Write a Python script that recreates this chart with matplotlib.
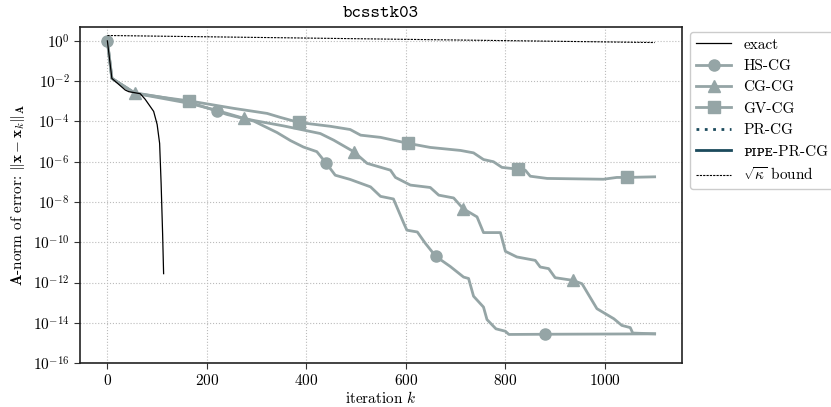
import numpy as np
import matplotlib
matplotlib.use("Agg")
import matplotlib.pyplot as plt

plt.rcParams['font.family'] = ['cmr10', 'DejaVu Serif']
plt.rcParams['mathtext.fontset'] = 'cm'
plt.rcParams['axes.formatter.use_mathtext'] = True

# iteration numbers and log10 of the A-norm error
exact_it = [0, 9, 36, 43, 66, 76, 93, 100, 105, 108, 111, 113]
exact_log = [0, -1.86, -2.44, -2.52, -2.62, -2.9, -3.5, -4.15, -5.09, -7.08, -9.57, -11.56]

hs_it = [0, 9, 55, 110, 165, 220, 240, 294, 341, 368, 394, 421, 440, 458, 488, 529,
         549, 575, 586, 596, 602, 623, 639, 660, 689, 716, 726, 736, 756, 763, 781,
         800, 807, 880, 1100]
hs_log = [0, -1.86, -2.58, -2.8, -3.05, -3.48, -3.65, -3.98, -4.55, -4.95, -5.27, -5.5,
          -6.08, -6.67, -6.88, -7.25, -7.72, -7.85, -8.49, -9.07, -9.4, -9.49, -10.05,
          -10.7, -11.2, -11.73, -11.8, -12.68, -13.22, -13.84, -14.3, -14.42, -14.58,
          -14.57, -14.55]

cg_it = [0, 9, 55, 110, 165, 220, 275, 294, 354, 428, 455, 495, 522, 569, 579, 609,
         649, 666, 696, 715, 743, 756, 790, 800, 823, 860, 870, 887, 900, 935, 954,
         968, 984, 1018, 1034, 1051, 1056, 1100]
cg_log = [0, -1.86, -2.6, -2.85, -3.1, -3.45, -3.85, -3.95, -4.22, -4.6, -4.93, -5.5,
          -6.08, -6.42, -6.78, -7.16, -7.28, -7.66, -7.8, -8.33, -8.74, -9.52, -9.52,
          -10.45, -10.73, -10.9, -11.23, -11.31, -11.76, -11.89, -12.06, -12.64, -13.3,
          -13.8, -14.13, -14.24, -14.51, -14.55]

gv_it = [0, 9, 55, 110, 165, 254, 321, 348, 385, 448, 488, 509, 549, 605, 649, 710,
         736, 756, 776, 793, 825, 840, 850, 884, 997, 1024, 1045, 1100]
gv_log = [0, -1.86, -2.6, -2.8, -2.98, -3.35, -3.6, -3.8, -4.05, -4.24, -4.4, -4.68,
          -4.79, -5.09, -5.29, -5.44, -5.56, -5.89, -6.0, -6.28, -6.37, -6.42, -6.72,
          -6.83, -6.87, -6.78, -6.78, -6.75]

bound_it = [0, 1100]
bound_log = [0.27, -0.08]

hs_marks = [0, 220, 440, 660, 880]
cg_marks = [55, 275, 495, 715, 935]
gv_marks = [165, 385, 605, 825, 1045]

gray = '#95a5a6'
teal = '#1b4a5c'

fig = plt.figure(figsize=(8.31, 4.07), dpi=100)
ax = fig.add_axes([0.0963, 0.108, 0.7244, 0.826])

ax.plot(exact_it, 10.0 ** np.array(exact_log), color='black', lw=0.9, label='exact', zorder=3)
ax.plot(hs_it, 10.0 ** np.array(hs_log), color=gray, lw=2, marker='o', ms=8,
        markevery=[hs_it.index(k) for k in hs_marks], label='HS-CG')
ax.plot(cg_it, 10.0 ** np.array(cg_log), color=gray, lw=2, marker='^', ms=8,
        markevery=[cg_it.index(k) for k in cg_marks], label='CG-CG')
ax.plot(gv_it, 10.0 ** np.array(gv_log), color=gray, lw=2, marker='s', ms=8,
        markevery=[gv_it.index(k) for k in gv_marks], label='GV-CG')
ax.plot([], [], color=teal, lw=2, ls=(0, (1, 2)), label='PR-CG')
ax.plot([], [], color=teal, lw=2, label='ᴘɪᴘᴇ-PR-CG')
ax.plot(bound_it, 10.0 ** np.array(bound_log), color='black', lw=0.8, ls=(0, (2, 1)),
        label=r'$\sqrt{\kappa}$ bound')

ax.set_yscale('log')
ax.set_ylim(1e-16, 5)
ax.set_xlim(-55, 1155)
ax.set_yticks([10.0 ** e for e in range(0, -17, -2)])
ax.minorticks_off()
ax.set_xticks([0, 200, 400, 600, 800, 1000])
ax.tick_params(labelsize=11, direction='out', length=4, color='#333333')
ax.grid(True, ls=':', color='#bbbbbb', lw=0.8)
for s in ax.spines.values():
    s.set_linewidth(1.2)
    s.set_color('#222222')

ax.set_title('bcsstk03', fontfamily='cmtt10', fontsize=13, pad=7)
ax.set_xlabel(r'iteration $k$', fontsize=11, labelpad=1)
ax.set_ylabel(r'$\mathbf{A}$-norm of error: $\|\mathbf{x}-\mathbf{x}_k\|_{\mathbf{A}}$', fontsize=11)

leg = ax.legend(loc='upper left', bbox_to_anchor=(1.013, 0.985), borderaxespad=0,
                fontsize=11, handlelength=2.3, labelspacing=0.5, fancybox=True,
                edgecolor='#cccccc', framealpha=1)

fig.savefig('out.png', dpi=100)
